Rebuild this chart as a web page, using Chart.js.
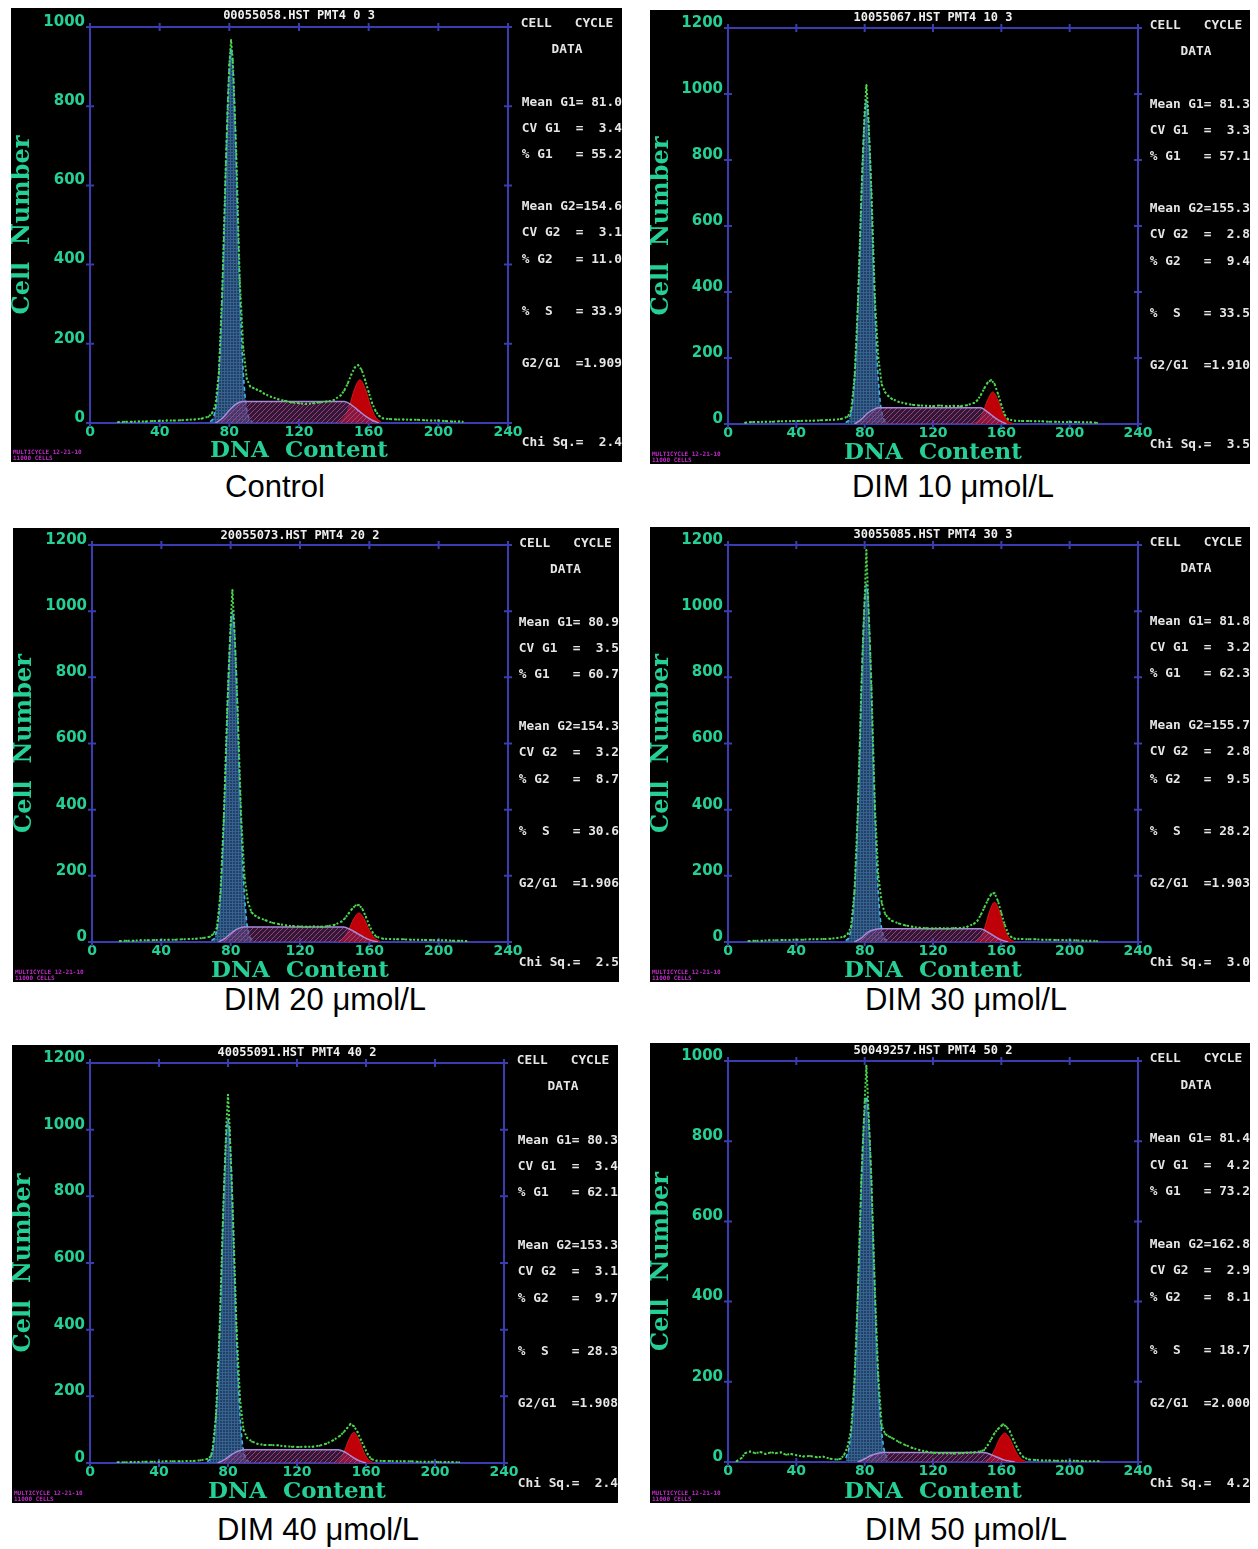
<!DOCTYPE html>
<html>
<head>
<meta charset="utf-8">
<script src="https://cdn.jsdelivr.net/npm/chart.js@4.4.1/dist/chart.umd.min.js"></script>
<style>
body { margin: 0; background: #fff; width: 1258px; height: 1549px; position: relative; overflow: hidden; }
.panel { position: absolute; background: #000; overflow: hidden; }
.panel canvas { position: absolute; left: 0; top: 0; }
.file { position: absolute; top: 0; height: 12px; line-height: 12px; font: bold 12px 'DejaVu Sans Mono', monospace; color: #f0f0f0; text-align: center; white-space: pre; }
.stat { position: absolute; height: 14px; line-height: 14px; font: bold 12.8px 'DejaVu Sans Mono', monospace; color: #e6e6e6; white-space: pre; }
.tag { position: absolute; left: 2px; bottom: 1px; font: bold 6px/6px 'DejaVu Sans Mono', monospace; color: #c02ac8; white-space: pre; }
.caption { position: absolute; font-family: 'Liberation Sans', Arial, sans-serif; font-size: 31px; color: #000; transform: translate(-50%, -50%); white-space: nowrap; }
</style>
</head>
<body>
<script>
// Textos de cada panel
const panelNames = ['Control', 'DIM 10 μmol/L', 'DIM 20 μmol/L', 'DIM 30 μmol/L', 'DIM 40 μmol/L', 'DIM 50 μmol/L'];
const fileTitles = ['00055058.HST PMT4 0 3', '10055067.HST PMT4 10 3', '20055073.HST PMT4 20 2',
                    '30055085.HST PMT4 30 3', '40055091.HST PMT4 40 2', '50049257.HST PMT4 50 2'];
const yMax = [1000, 1200, 1200, 1200, 1200, 1000];
const xMax = 240;

// Resultados del ajuste (columna derecha)
const meanG1 = ['81.0', '81.3', '80.9', '81.8', '80.3', '81.4'];
const cvG1 = ['3.4', '3.3', '3.5', '3.2', '3.4', '4.2'];
const pctG1 = ['55.2', '57.1', '60.7', '62.3', '62.1', '73.2'];
const meanG2 = ['154.6', '155.3', '154.3', '155.7', '153.3', '162.8'];
const cvG2 = ['3.1', '2.8', '3.2', '2.8', '3.1', '2.9'];
const pctG2 = ['11.0', '9.4', '8.7', '9.5', '9.7', '8.1'];
const pctS = ['33.9', '33.5', '30.6', '28.2', '28.3', '18.7'];
const ratioG2G1 = ['1.909', '1.910', '1.906', '1.903', '1.908', '2.000'];
const chiSq = ['2.4', '3.5', '2.5', '3.0', '2.4', '4.2'];

// Histogramas [canal, cuentas]
const controlRaw = [[16,2],[20,3],[24,3],[28,4],[32,4],[36,5],[40,5],[44,6],[48,6],[52,7],[56,8],[60,9],[64,11],[68,16],[70,24],[72,45],[74,128],[76,340],[78,660],[80,905],[81,967],[82,915],[84,680],[86,360],[88,190],[90,112],[92,92],[94,88],[96,84],[98,80],[100,74],[104,66],[108,60],[112,56],[116,52],[120,50],[124,48],[128,50],[132,52],[136,54],[140,58],[144,70],[146,82],[148,100],[150,122],[152,140],[154,146],[156,134],[158,108],[160,78],[162,50],[164,30],[166,18],[168,12],[172,10],[176,9],[180,9],[184,8],[188,8],[192,7],[196,6],[200,6],[204,5],[208,4],[212,4],[214,3]];
const controlG1 = [[69,3],[71,16],[73,69],[75,218],[77,492],[79,803],[81,946],[83,803],[85,492],[87,218],[89,69],[91,16],[93,3]];
const controlS = [[72,0],[76,12],[80,32],[84,48],[88,54],[146,54],[150,46],[154,32],[158,18],[162,7],[166,0]];
const controlG2 = [[143,3],[146,15],[149,45],[152,87],[155,109],[158,87],[161,45],[164,15],[167,3]];

const dim10Raw = [[10,4],[14,6],[18,6],[22,7],[26,7],[30,8],[34,8],[38,9],[42,9],[46,10],[50,10],[54,11],[58,12],[62,13],[66,15],[70,22],[72,40],[74,135],[76,360],[78,680],[80,945],[81,1027],[82,950],[84,700],[86,380],[88,200],[90,120],[92,96],[94,84],[96,76],[100,67],[104,62],[108,58],[112,56],[116,55],[120,54],[124,56],[128,54],[132,55],[136,54],[140,57],[144,64],[146,72],[148,88],[150,108],[152,126],[154,133],[156,122],[158,92],[160,58],[162,28],[164,14],[168,10],[172,9],[176,9],[180,8],[184,8],[188,7],[192,7],[196,6],[200,6],[204,6],[208,5],[212,5],[216,4]];
const dim10G1 = [[69,4],[71,17],[73,72],[75,226],[77,511],[79,834],[81,982],[83,834],[85,511],[87,226],[89,72],[91,17],[93,4]];
const dim10S = [[74,0],[78,14],[82,34],[86,46],[88,49],[148,49],[151,40],[154,28],[157,16],[160,7],[163,0]];
const dim10G2 = [[143,1],[146,8],[149,32],[152,73],[155,97],[158,73],[161,32],[164,8],[167,1]];

const dim20Raw = [[16,3],[20,4],[24,4],[28,5],[32,5],[36,6],[40,6],[44,7],[48,7],[52,8],[56,9],[60,10],[64,12],[68,16],[70,24],[72,42],[74,140],[76,370],[78,700],[80,960],[81,1064],[82,965],[84,710],[86,385],[88,195],[90,120],[92,90],[94,80],[96,74],[100,66],[104,58],[108,54],[112,50],[116,48],[120,47],[124,46],[128,47],[132,46],[136,48],[140,52],[144,62],[146,72],[148,86],[150,100],[152,110],[154,112],[156,100],[158,76],[160,50],[162,28],[164,16],[168,10],[172,9],[176,8],[180,8],[184,7],[188,7],[192,6],[196,6],[200,5],[204,5],[208,4],[212,4],[216,3]];
const dim20G1 = [[69,4],[71,17],[73,73],[75,230],[77,520],[79,849],[81,1000],[83,849],[85,520],[87,230],[89,73],[91,17],[93,4]];
const dim20S = [[73,0],[77,12],[81,30],[85,42],[88,45],[145,45],[149,38],[153,26],[157,14],[161,5],[165,0]];
const dim20G2 = [[142,3],[145,12],[148,36],[151,70],[154,88],[157,70],[160,36],[163,12],[166,3]];

const dim30Raw = [[12,3],[16,4],[20,4],[24,5],[28,5],[32,6],[36,6],[40,7],[44,7],[48,8],[52,8],[56,9],[60,10],[64,12],[68,16],[70,24],[72,45],[74,150],[76,400],[78,760],[80,1040],[81,1185],[82,1045],[84,770],[86,410],[88,200],[90,118],[92,84],[94,72],[96,64],[100,56],[104,50],[108,46],[112,43],[116,42],[120,41],[124,42],[128,41],[132,42],[136,42],[140,46],[144,55],[146,64],[148,82],[150,104],[152,126],[154,144],[156,148],[158,124],[160,88],[162,52],[164,26],[166,14],[168,10],[172,9],[176,8],[180,8],[184,7],[188,7],[192,6],[196,6],[200,5],[204,5],[208,4],[212,4],[216,3]];
const dim30G1 = [[69,4],[71,18],[73,79],[75,249],[77,563],[79,919],[81,1082],[83,919],[85,563],[87,249],[89,79],[91,18],[93,4]];
const dim30S = [[74,0],[78,12],[82,30],[86,38],[89,40],[148,40],[151,33],[154,24],[157,14],[160,6],[164,0]];
const dim30G2 = [[144,1],[147,9],[150,39],[153,91],[156,120],[159,91],[162,39],[165,9],[168,1]];

const dim40Raw = [[16,2],[20,2],[24,3],[28,3],[32,4],[36,4],[40,4],[44,5],[48,5],[52,5],[56,6],[60,6],[64,8],[68,12],[70,20],[71,40],[73,140],[75,380],[77,720],[79,1010],[80,1105],[81,1000],[83,720],[85,400],[87,190],[89,100],[91,76],[94,64],[97,58],[101,54],[105,54],[109,53],[113,50],[117,49],[121,48],[125,49],[129,49],[133,52],[137,58],[141,68],[145,82],[147,92],[149,104],[151,117],[153,110],[155,94],[157,70],[159,48],[161,26],[163,12],[166,7],[170,6],[174,6],[178,5],[182,5],[186,5],[190,4],[194,4],[198,4],[202,3],[206,3],[210,3],[214,2]];
const dim40G1 = [[68,4],[70,18],[72,75],[74,237],[76,536],[78,875],[80,1030],[82,875],[84,536],[86,237],[88,75],[90,18],[92,4]];
const dim40S = [[74,0],[78,10],[82,25],[86,36],[90,40],[144,40],[148,32],[151,22],[154,12],[157,5],[160,0]];
const dim40G2 = [[141,1],[144,7],[147,30],[150,69],[153,92],[156,69],[159,30],[162,7],[165,1]];

const dim50Raw = [[5,2],[8,10],[10,22],[13,26],[16,22],[19,25],[22,20],[25,24],[28,22],[31,24],[34,18],[37,20],[40,17],[44,14],[48,15],[52,12],[56,13],[60,8],[64,6],[66,8],[68,18],[70,38],[72,80],[74,200],[76,420],[78,700],[80,900],[81,988],[82,900],[84,700],[86,430],[88,215],[90,90],[92,70],[94,64],[96,60],[100,50],[104,42],[108,35],[112,30],[116,26],[120,23],[124,22],[128,22],[132,21],[136,22],[140,23],[144,24],[148,27],[150,30],[152,42],[154,56],[156,72],[158,82],[160,90],[161,94],[163,88],[165,76],[167,56],[169,38],[171,22],[173,12],[176,6],[180,5],[184,4],[188,4],[192,3],[196,3],[200,3],[204,3],[208,2],[212,2],[217,2]];
const dim50G1 = [[69,10],[71,40],[73,123],[75,296],[77,553],[79,804],[81,911],[83,804],[85,553],[87,296],[89,123],[91,40],[93,10]];
const dim50S = [[76,0],[80,8],[84,17],[88,22],[91,24],[150,24],[153,20],[157,13],[161,6],[165,2],[168,0]];
const dim50G2 = [[150,2],[153,10],[156,30],[159,58],[162,72],[165,58],[168,30],[171,10],[174,2]];

const rawSets = [controlRaw, dim10Raw, dim20Raw, dim30Raw, dim40Raw, dim50Raw];
const g1Sets = [controlG1, dim10G1, dim20G1, dim30G1, dim40G1, dim50G1];
const sSets = [controlS, dim10S, dim20S, dim30S, dim40S, dim50S];
const g2Sets = [controlG2, dim10G2, dim20G2, dim30G2, dim40G2, dim50G2];

// Posiciones en la página: caja negra [x, y, ancho, alto] y área del gráfico [izq, arriba, der, abajo]
const panelBoxes = [[11, 8, 611, 454], [650, 10, 600, 454], [13, 528, 606, 454],
                    [650, 527, 600, 455], [12, 1045, 606, 458], [650, 1043, 600, 460]];
const plotAreas = [[90, 27, 508, 423], [728, 28, 1138, 424], [92, 545, 508, 942],
                   [728, 545, 1138, 942], [90, 1063, 504, 1463], [728, 1061, 1138, 1462]];
const captionPos = [[275, 487], [953, 487], [325, 1000], [966, 1000], [318, 1530], [966, 1530]];
const statRows = [14, 40, 93, 119, 145, 197, 223, 250, 302, 354, 433];

const green = '#25d097';
const axisBlue = '#3a3cb0';
const rawGreen = '#4cd84c';

// Patrón de relleno (rayado o cuadriculado)
function makePattern(bg, line, size, diagonal) {
    const c = document.createElement('canvas');
    c.width = size; c.height = size;
    const g = c.getContext('2d');
    g.fillStyle = bg;
    g.fillRect(0, 0, size, size);
    g.strokeStyle = line;
    g.lineWidth = 1;
    g.beginPath();
    if (diagonal) {
        g.moveTo(0, size); g.lineTo(size, 0);
        g.moveTo(-1, 1); g.lineTo(1, -1);
        g.moveTo(size - 1, size + 1); g.lineTo(size + 1, size - 1);
    } else {
        g.moveTo(0, 0.5); g.lineTo(size, 0.5);
        g.moveTo(0.5, 0); g.lineTo(0.5, size);
    }
    g.stroke();
    return g.createPattern(c, 'repeat');
}

// Marco azul con marcas cruzadas en los cuatro lados
const framePlugin = {
    id: 'frame',
    beforeDatasetsDraw(chart) {
        const { ctx, chartArea: a, scales: { x, y } } = chart;
        ctx.save();
        ctx.strokeStyle = axisBlue;
        ctx.lineWidth = 2;
        ctx.strokeRect(a.left, a.top, a.right - a.left, a.bottom - a.top);
        ctx.beginPath();
        x.ticks.forEach(t => {
            const px = x.getPixelForValue(t.value);
            ctx.moveTo(px, a.top - 4); ctx.lineTo(px, a.top + 4);
            ctx.moveTo(px, a.bottom - 4); ctx.lineTo(px, a.bottom + 4);
        });
        y.ticks.forEach(t => {
            const py = y.getPixelForValue(t.value);
            ctx.moveTo(a.left - 4, py); ctx.lineTo(a.left + 4, py);
            ctx.moveTo(a.right - 4, py); ctx.lineTo(a.right + 4, py);
        });
        ctx.stroke();
        ctx.restore();
    }
};

function addDiv(parent, cls, text, style) {
    const d = document.createElement('div');
    d.className = cls;
    d.textContent = text;
    Object.assign(d.style, style);
    parent.appendChild(d);
    return d;
}

function buildPanel(i) {
    const [bx, by, bw, bh] = panelBoxes[i];
    const [al, at, ar, ab] = plotAreas[i];
    const panel = document.createElement('div');
    panel.className = 'panel';
    Object.assign(panel.style, { left: bx + 'px', top: by + 'px', width: bw + 'px', height: bh + 'px' });
    document.body.appendChild(panel);

    const canvas = document.createElement('canvas');
    canvas.width = bw; canvas.height = bh;
    panel.appendChild(canvas);

    // Título del archivo
    addDiv(panel, 'file', fileTitles[i], { left: (al - bx) + 'px', width: (ar - al) + 'px' });

    // Columna de datos del ciclo celular
    const colLeft = ar - bx + 4;
    const colW = bw - colLeft;
    const lines = [
        'CELL   CYCLE', 'DATA',
        'Mean G1=' + meanG1[i].padStart(5),
        'CV G1  =' + cvG1[i].padStart(5),
        '% G1   =' + pctG1[i].padStart(5),
        'Mean G2=' + meanG2[i].padStart(5),
        'CV G2  =' + cvG2[i].padStart(5),
        '% G2   =' + pctG2[i].padStart(5),
        '%  S   =' + pctS[i].padStart(5),
        'G2/G1  =' + ratioG2G1[i].padStart(5),
        'Chi Sq.=' + chiSq[i].padStart(5)
    ];
    const k = bh / 454;
    lines.forEach((txt, j) => {
        const style = { top: (statRows[j] * k - 7) + 'px' };
        if (j < 2) {
            style.left = colLeft + 'px'; style.width = colW + 'px'; style.textAlign = 'center';
        } else {
            style.right = '0px';
        }
        addDiv(panel, 'stat', txt, style);
    });

    addDiv(panel, 'tag', 'MULTICYCLE 12-21-10\n11000 CELLS', {});

    const sPattern = makePattern('rgba(95,40,100,0.55)', 'rgba(180,80,150,0.75)', 5, true);
    const g1Pattern = makePattern('#223f66', '#36628f', 3, false);

    new Chart(canvas, {
        type: 'line',
        data: {
            datasets: [{
                data: rawSets[i],
                borderColor: rawGreen,
                borderWidth: 2,
                borderDash: [2, 2],
                pointRadius: 1,
                pointBorderWidth: 0,
                pointBackgroundColor: rawGreen,
                tension: 0,
                fill: false
            }, {
                data: sSets[i],
                borderColor: '#a78ad8',
                borderWidth: 1.5,
                backgroundColor: sPattern,
                fill: 'origin',
                pointRadius: 0,
                cubicInterpolationMode: 'monotone'
            }, {
                data: g1Sets[i],
                borderColor: '#45b6e8',
                borderWidth: 1.6,
                borderDash: [4, 3],
                backgroundColor: g1Pattern,
                fill: 'origin',
                pointRadius: 0,
                cubicInterpolationMode: 'monotone'
            }, {
                data: g2Sets[i],
                borderColor: '#d01818',
                borderWidth: 1,
                backgroundColor: '#bf0008',
                fill: 'origin',
                pointRadius: 0,
                cubicInterpolationMode: 'monotone'
            }]
        },
        options: {
            responsive: false,
            animation: false,
            layout: { padding: { left: 0, top: at - by, right: bx + bw - ar, bottom: 0 } },
            plugins: { legend: { display: false }, tooltip: { enabled: false } },
            scales: {
                x: {
                    type: 'linear', min: 0, max: xMax,
                    grid: { display: false, drawTicks: false },
                    border: { display: false },
                    ticks: { stepSize: 40, color: green, padding: 1, maxRotation: 0,
                             callback: v => String(v),
                             font: { family: 'DejaVu Sans', weight: 'bold', size: 14 } },
                    title: { display: true, text: 'DNA  Content', color: green, padding: { top: 0, bottom: -1 },
                             font: { family: 'DejaVu Serif', weight: 'bold', size: 23, lineHeight: 1 } },
                    afterFit: s => { s.height = by + bh - ab; }
                },
                y: {
                    min: 0, max: yMax[i],
                    grid: { display: false, drawTicks: false },
                    border: { display: false },
                    ticks: { stepSize: 200, color: green, padding: 5, labelOffset: -5,
                             callback: v => String(v),
                             font: { family: 'DejaVu Sans', weight: 'bold', size: 15 } },
                    title: { display: true, text: 'Cell  Number', color: green, padding: { top: 0, bottom: 0 },
                             font: { family: 'DejaVu Serif', weight: 'bold', size: 24, lineHeight: 1 } },
                    afterFit: s => { s.width = al - bx; }
                }
            }
        },
        plugins: [framePlugin]
    });

    addDiv(document.body, 'caption', panelNames[i],
        { left: captionPos[i][0] + 'px', top: captionPos[i][1] + 'px' });
}

panelNames.forEach((_, i) => buildPanel(i));
</script>
</body>
</html>
